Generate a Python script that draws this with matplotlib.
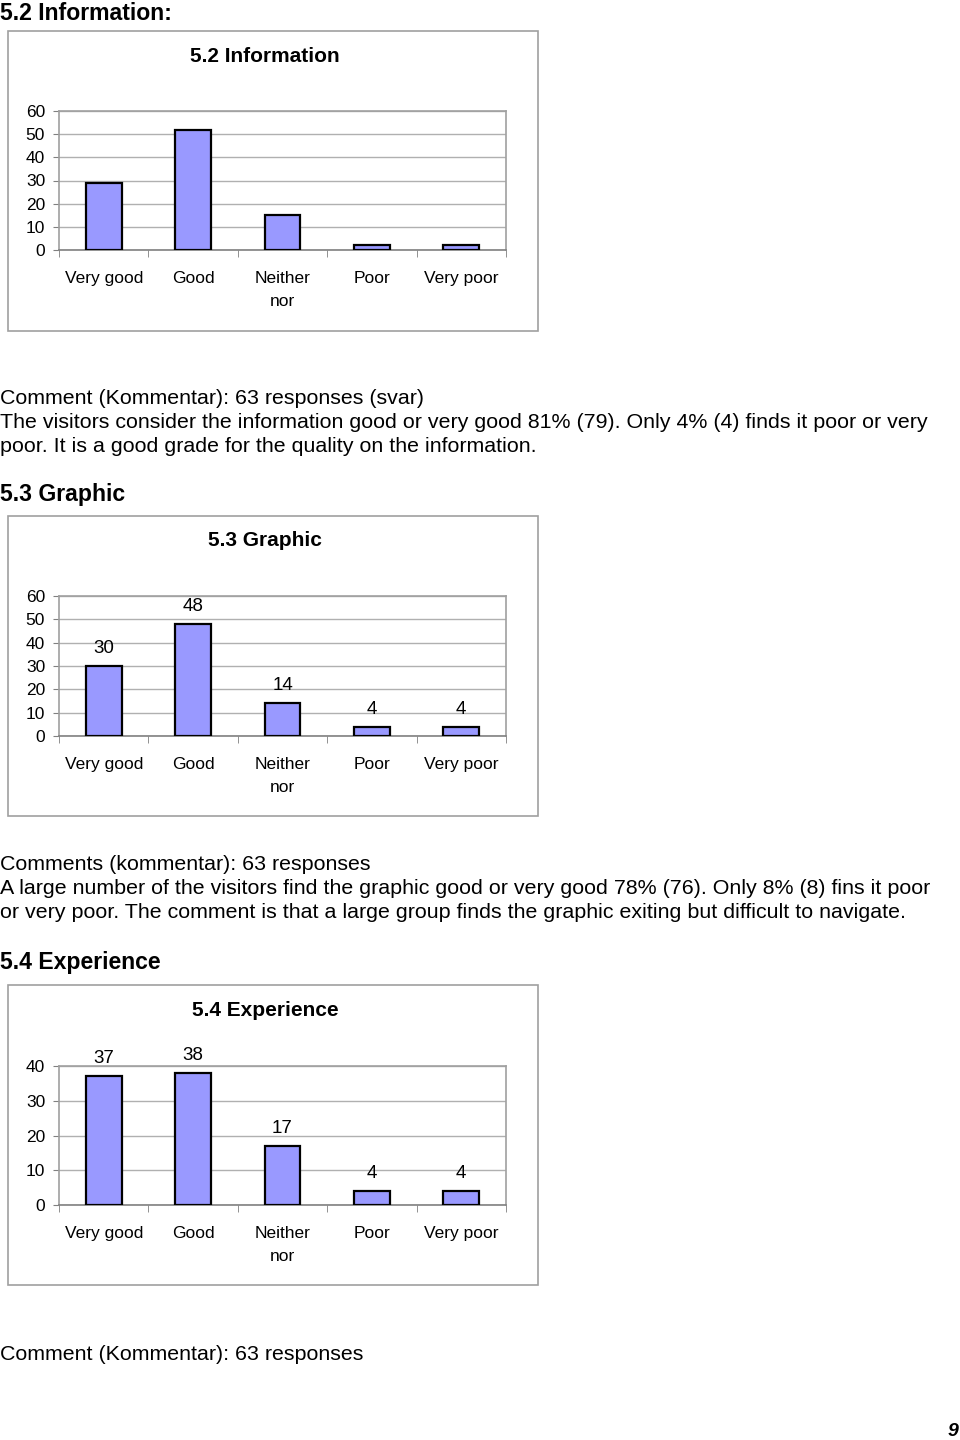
import numpy as np
import matplotlib
matplotlib.use("Agg")
import matplotlib.pyplot as plt
from matplotlib.patches import Rectangle

plt.rcParams['font.family'] = ['Liberation Sans', 'DejaVu Sans']

categories = ["Very good", "Good", "Neither\nnor", "Poor", "Very poor"]
info_values = [29, 52, 15, 2, 2]
graphic_values = [30, 48, 14, 4, 4]
experience_values = [37, 38, 17, 4, 4]

W, H = 960, 1440
fig = plt.figure(figsize=(W / 100, H / 100), dpi=100)


def fx(x):
    return x / W


def fy(y):
    return 1 - y / H


def text(x, y, s, **kw):
    fig.text(fx(x), fy(y), s, va='center', **kw)


def chart(box_top, plot_top, plot_bottom, title, values, ymax, labels):
    # outer chart frame
    fig.patches.append(Rectangle((fx(8), fy(box_top + 300)), fx(530), 300 / H,
                                 transform=fig.transFigure, fill=False,
                                 edgecolor='#a0a0a0', linewidth=1.2))
    text(265, box_top + 25, title, ha='center', fontsize=15, fontweight='bold')

    ax = fig.add_axes([fx(59), fy(plot_bottom), fx(506 - 59), (plot_bottom - plot_top) / H])
    x = np.arange(len(values))
    ax.bar(x, values, width=0.4, color='#9999ff', edgecolor='black', linewidth=1.6, zorder=3)
    ax.set_xlim(-0.5, len(values) - 0.5)
    ax.set_ylim(0, ymax)
    ax.set_yticks(np.arange(0, ymax + 1, 10))
    ax.yaxis.grid(True, color='#b0b0b0', linewidth=1)
    ax.set_xticks(x)
    ax.set_xticklabels(categories, fontsize=12.5, linespacing=1.7)
    ax.set_xticks(np.arange(-0.5, len(values), 1), minor=True)
    ax.tick_params(axis='x', which='major', length=0, pad=15)
    ax.tick_params(axis='x', which='minor', length=5, color='#808080')
    ax.tick_params(axis='y', length=4, color='#808080', labelsize=12.5, pad=6)
    for s in ax.spines.values():
        s.set_color('#a0a0a0')
        s.set_linewidth(1.2)
    ax.spines['bottom'].set_color('#808080')
    if labels:
        for xi, v in zip(x, values):
            ax.annotate(str(v), (xi, v), xytext=(0, 6.5), textcoords='offset points',
                        ha='center', va='bottom', fontsize=13.5)


body = dict(fontsize=15.4)
head = dict(fontsize=16.6, fontweight='bold')

text(0, 13, "5.2 Information:", **head)
chart(31, 111, 250, "5.2 Information", info_values, 60, False)
text(0, 398, "Comment (Kommentar): 63 responses (svar)", **body)
text(0, 422, "The visitors consider the information good or very good 81% (79). Only 4% (4) finds it poor or very", **body)
text(0, 446, "poor. It is a good grade for the quality on the information.", **body)

text(0, 495, "5.3 Graphic", **head)
chart(516, 596, 736, "5.3 Graphic", graphic_values, 60, True)
text(0, 864, "Comments (kommentar): 63 responses", **body)
text(0, 889, "A large number of the visitors find the graphic good or very good 78% (76). Only 8% (8) fins it poor", **body)
text(0, 913, "or very poor. The comment is that a large group finds the graphic exiting but difficult to navigate.", **body)

text(0, 963, "5.4 Experience", **head)
chart(985, 1066, 1205, "5.4 Experience", experience_values, 40, True)
text(0, 1354, "Comment (Kommentar): 63 responses", **body)

text(958, 1432, "9", ha='right', fontsize=14, fontweight='bold', fontstyle='italic')

fig.savefig("out.png", dpi=100)
